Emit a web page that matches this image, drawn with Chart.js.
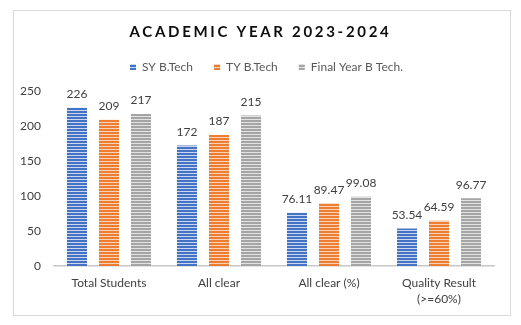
<!DOCTYPE html>
<html>
<head>
<meta charset="utf-8">
<script src="https://cdn.jsdelivr.net/npm/chart.js@4.4.0/dist/chart.umd.min.js"></script>
<style>
html,body{margin:0;padding:0;background:#fff;}
#wrap{position:relative;width:521px;height:325px;}
</style>
</head>
<body>
<div id="wrap"><canvas id="c" width="521" height="325"></canvas></div>
<script>
const categories = ["Total Students", "All clear", "All clear (%)", ["Quality Result", "(>=60%)"]];
const seriesNames = ["SY B.Tech", "TY B.Tech", "Final Year B Tech."];
const syValues = [226, 172, 76.11, 53.54];
const tyValues = [209, 187, 89.47, 64.59];
const finalValues = [217, 215, 99.08, 96.77];
const yTicks = [0, 50, 100, 150, 200, 250];

function makePattern(color, light) {
  const p = document.createElement('canvas');
  p.width = 4; p.height = 3;
  const g = p.getContext('2d');
  g.fillStyle = color; g.fillRect(0, 0, 4, 3);
  g.fillStyle = light; g.fillRect(0, 2, 4, 1);
  return document.getElementById('c').getContext('2d').createPattern(p, 'repeat');
}

const borderPlugin = {
  id: 'frame',
  beforeDraw(chart) {
    const ctx = chart.ctx;
    ctx.save();
    ctx.fillStyle = '#ffffff';
    ctx.fillRect(0, 0, chart.width, chart.height);
    ctx.strokeStyle = '#d9d9d9';
    ctx.lineWidth = 1;
    ctx.strokeRect(13.5, 10.5, 497, 305);
    ctx.restore();
  }
};

const valueLabels = {
  id: 'valueLabels',
  afterDatasetsDraw(chart) {
    const ctx = chart.ctx;
    ctx.save();
    ctx.font = '12px Lato';
    ctx.fillStyle = '#404040';
    ctx.textAlign = 'center';
    ctx.textBaseline = 'middle';
    chart.data.datasets.forEach((ds, i) => {
      const meta = chart.getDatasetMeta(i);
      meta.data.forEach((el, j) => {
        ctx.fillText(String(ds.data[j]), el.x, el.y - 13.5);
      });
    });
    ctx.restore();
  }
};

const chart = new Chart(document.getElementById('c'), {
  type: 'bar',
  data: {
    labels: categories,
    datasets: [
      { label: seriesNames[0], data: syValues, backgroundColor: makePattern('#4472C4', '#c9d6ef') },
      { label: seriesNames[1], data: tyValues, backgroundColor: makePattern('#ED7D31', '#f9d3b8') },
      { label: seriesNames[2], data: finalValues, backgroundColor: makePattern('#A5A5A5', '#e2e2e2') }
    ]
  },
  options: {
    responsive: false,
    animation: false,
    devicePixelRatio: 1,
    layout: { padding: { left: 0, right: 0, top: 0, bottom: 9 } },
    datasets: { bar: { categoryPercentage: 0.873, barPercentage: 0.625 } },
    plugins: {
      title: {
        display: true,
        text: 'ACADEMIC YEAR 2023-2024',
        color: '#0d0d0d',
        font: { family: 'Lato', size: 15, weight: 'bold' },
        padding: { top: 23, bottom: 0 }
      },
      legend: {
        display: true,
        labels: {
          boxWidth: 6, boxHeight: 6, padding: 21,
          color: '#595959',
          font: { family: 'Lato', size: 12 }
        }
      },
      tooltip: { enabled: false }
    },
    scales: {
      x: {
        grid: { display: false, drawTicks: false },
        border: { display: true, color: '#c8c8c8', width: 1.5 },
        ticks: { color: '#404040', font: { family: 'Lato', size: 12, lineHeight: 1.33 }, padding: 9, maxRotation: 0, autoSkip: false },
        afterFit(s) { s.height = 50; }
      },
      y: {
        min: 0, max: 250,
        grid: { display: false, drawTicks: false },
        border: { display: false },
        afterBuildTicks(s) { s.ticks = yTicks.map(v => ({ value: v })); },
        ticks: { color: '#404040', font: { family: 'Lato', size: 12 }, padding: 13 },
        afterFit(s) { s.width = 54; }
      },
      yRight: {
        position: 'right',
        display: true,
        grid: { display: false, drawTicks: false },
        border: { display: false },
        ticks: { display: false },
        afterFit(s) { s.width = 27; }
      }
    }
  },
  plugins: [borderPlugin, valueLabels]
});

const tb = chart.titleBlock;
const origDraw = tb.draw;
tb.draw = function () {
  const ctx = this.ctx;
  ctx.save();
  ctx.letterSpacing = '2.7px';
  origDraw.apply(this, arguments);
  ctx.restore();
};
const lg = chart.legend;
const origFit = lg.fit;
lg.fit = function () {
  origFit.apply(this, arguments);
  this.height += 7;
};
const origLgDraw = lg.draw;
lg.draw = function () {
  const ctx = this.ctx;
  ctx.save();
  ctx.translate(6, -1);
  origLgDraw.apply(this, arguments);
  ctx.restore();
};
chart.update();
</script>
</body>
</html>
